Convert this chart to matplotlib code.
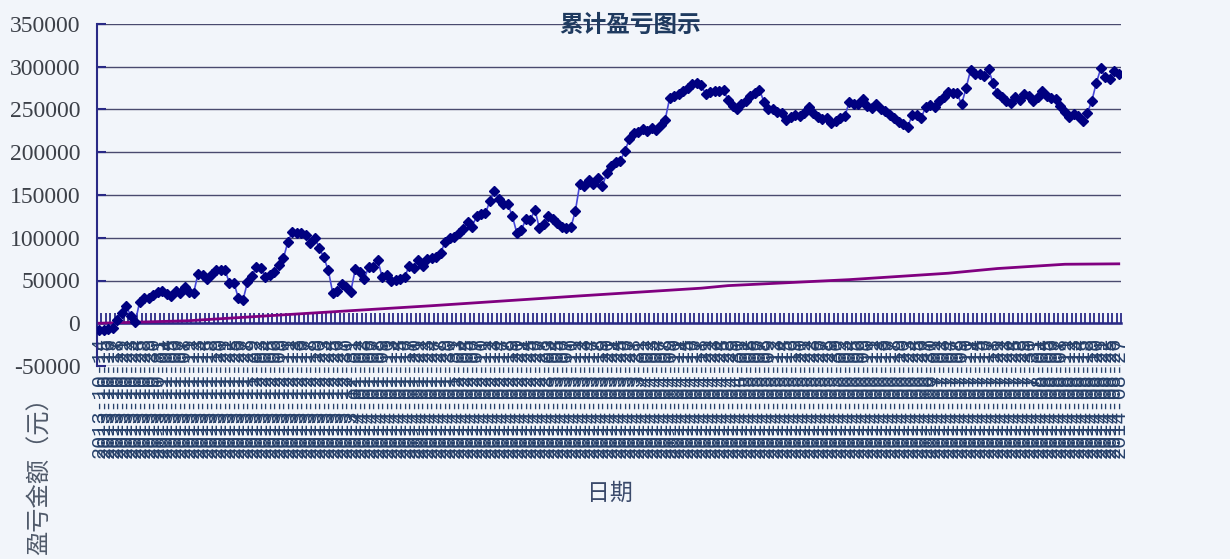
import numpy as np
import pandas as pd
import matplotlib.pyplot as plt
from matplotlib.ticker import FixedLocator, NullFormatter

plt.rcParams['axes.unicode_minus'] = False

# --- 数据：累计盈亏（元），逐个交易日 ---
pnl = [
    -8000, -7500, -7000, -5000, 3500, 12000, 20000, 9000, 1000, 25000,
    30000, 29000, 33000, 36000, 38000, 34000, 32000, 38000, 35000, 42000,
    36000, 35000, 58000, 57000, 52000, 58000, 62000, 62000, 62000, 47000,
    47000, 29000, 27000, 48000, 55000, 66000, 65000, 54000, 57000, 60000,
    68000, 76000, 95000, 107000, 105000, 105000, 103000, 94000, 100000, 88000,
    77000, 62000, 35000, 38000, 46000, 42000, 37000, 63000, 60000, 52000,
    66000, 66000, 74000, 54000, 56000, 49000, 51000, 52000, 54000, 67000,
    65000, 74000, 67000, 75000, 76000, 77000, 82000, 95000, 100000, 101000,
    105000, 110000, 119000, 113000, 125000, 128000, 129000, 143000, 155000, 145000,
    140000, 139000, 125000, 105000, 109000, 122000, 121000, 133000, 111000, 116000,
    125000, 122000, 117000, 112000, 111000, 112000, 131000, 163000, 160000, 167000,
    163000, 170000, 160000, 176000, 184000, 189000, 190000, 201000, 215000, 222000,
    224000, 227000, 225000, 228000, 226000, 232000, 238000, 263000, 266000, 268000,
    272000, 275000, 280000, 281000, 279000, 268000, 270000, 272000, 272000, 273000,
    261000, 254000, 250000, 256000, 260000, 266000, 269000, 273000, 259000, 250000,
    250000, 247000, 246000, 238000, 241000, 244000, 242000, 246000, 253000, 246000,
    241000, 239000, 240000, 234000, 237000, 240000, 242000, 259000, 256000, 257000,
    262000, 254000, 252000, 257000, 251000, 248000, 243000, 240000, 235000, 233000,
    230000, 243000, 243000, 240000, 253000, 255000, 253000, 260000, 265000, 271000,
    269000, 269000, 256000, 275000, 296000, 292000, 291000, 289000, 297000, 281000,
    269000, 265000, 260000, 258000, 265000, 261000, 268000, 266000, 260000, 265000,
    272000, 266000, 263000, 262000, 254000, 247000, 241000, 245000, 242000, 237000,
    246000, 260000, 281000, 298000, 288000, 286000, 295000, 292000,
]

# 紫线（基准）在部分交易日上的读数
bench_idx = [0, 20, 43, 74, 107, 134, 140, 167, 189, 200, 215, 227]
bench_val = [0, 3000, 10500, 20500, 32000, 41000, 44000, 51000, 58500, 64000, 69000, 69500]

dates = pd.bdate_range('2013-10-14', periods=len(pnl)).strftime('%Y-%m-%d')

yticks = [-50000, 0, 50000, 100000, 150000, 200000, 250000, 300000, 350000]

bg = '#f2f5fa'
navy = '#2a2a86'

fig = plt.figure(figsize=(12.3, 5.59), dpi=100, facecolor=bg)
ax = fig.add_axes([97/1230, 1 - 366/559, 1024/1230, 342/559])
ax.set_facecolor(bg)

x = np.arange(len(pnl))
ax.plot(x, pnl, color='#4646d8', lw=1.2, marker='D', ms=5.5,
        mfc='#000080', mec='#000080', zorder=4)
ax.plot(bench_idx, bench_val, color='#800080', lw=2, zorder=3)

ax.set_xlim(-0.5, len(pnl) - 0.5)
ax.set_ylim(-50000, 350000)

# y 轴
ax.set_yticks(yticks)
ax.set_yticklabels([str(v) for v in yticks], family='Liberation Serif',
                   fontsize=17, color='#3c4048')
ax.tick_params(axis='y', direction='in', length=6.5, width=1.5, color=navy, pad=12)
ax.grid(axis='y', color='#4a4a6e', lw=1.0, zorder=1)

# x 轴（在 0 处）
ax.spines['bottom'].set_position(('data', 0))
ax.spines['bottom'].set_color(navy)
ax.spines['bottom'].set_linewidth(1.8)
ax.spines['left'].set_color(navy)
ax.spines['left'].set_linewidth(1.5)
ax.spines['top'].set_visible(False)
ax.spines['right'].set_visible(False)

ax.xaxis.set_major_locator(FixedLocator(x))
ax.set_xticklabels(dates, rotation=90, family='Liberation Mono',
                   fontsize=14.5, color='#26406a')
ax.xaxis.set_minor_locator(FixedLocator(np.arange(len(pnl) + 1) - 0.5))
ax.xaxis.set_minor_formatter(NullFormatter())
ax.tick_params(axis='x', which='major', length=0, pad=10)
ax.tick_params(axis='x', which='minor', direction='in', length=7.5, width=1.3, color=navy)

# 文字
fig.text(630/1230, 1 - 25/559, '累计盈亏图示', ha='center', va='center',
         fontsize=17, fontweight='bold', color='#1f3a5f', family='Noto Sans CJK SC')
fig.text(40/1230, 1 - 470/559, '盈亏金额（元）', rotation=90, ha='center', va='center',
         fontsize=17.5, color='#505a6a', family='Noto Sans CJK SC')
fig.text(610/1230, 1 - 493/559, '日期', ha='center', va='center',
         fontsize=16.5, color='#3b4a6b', family='Noto Sans CJK SC')

fig.savefig('out.png', dpi=100, facecolor=bg)
